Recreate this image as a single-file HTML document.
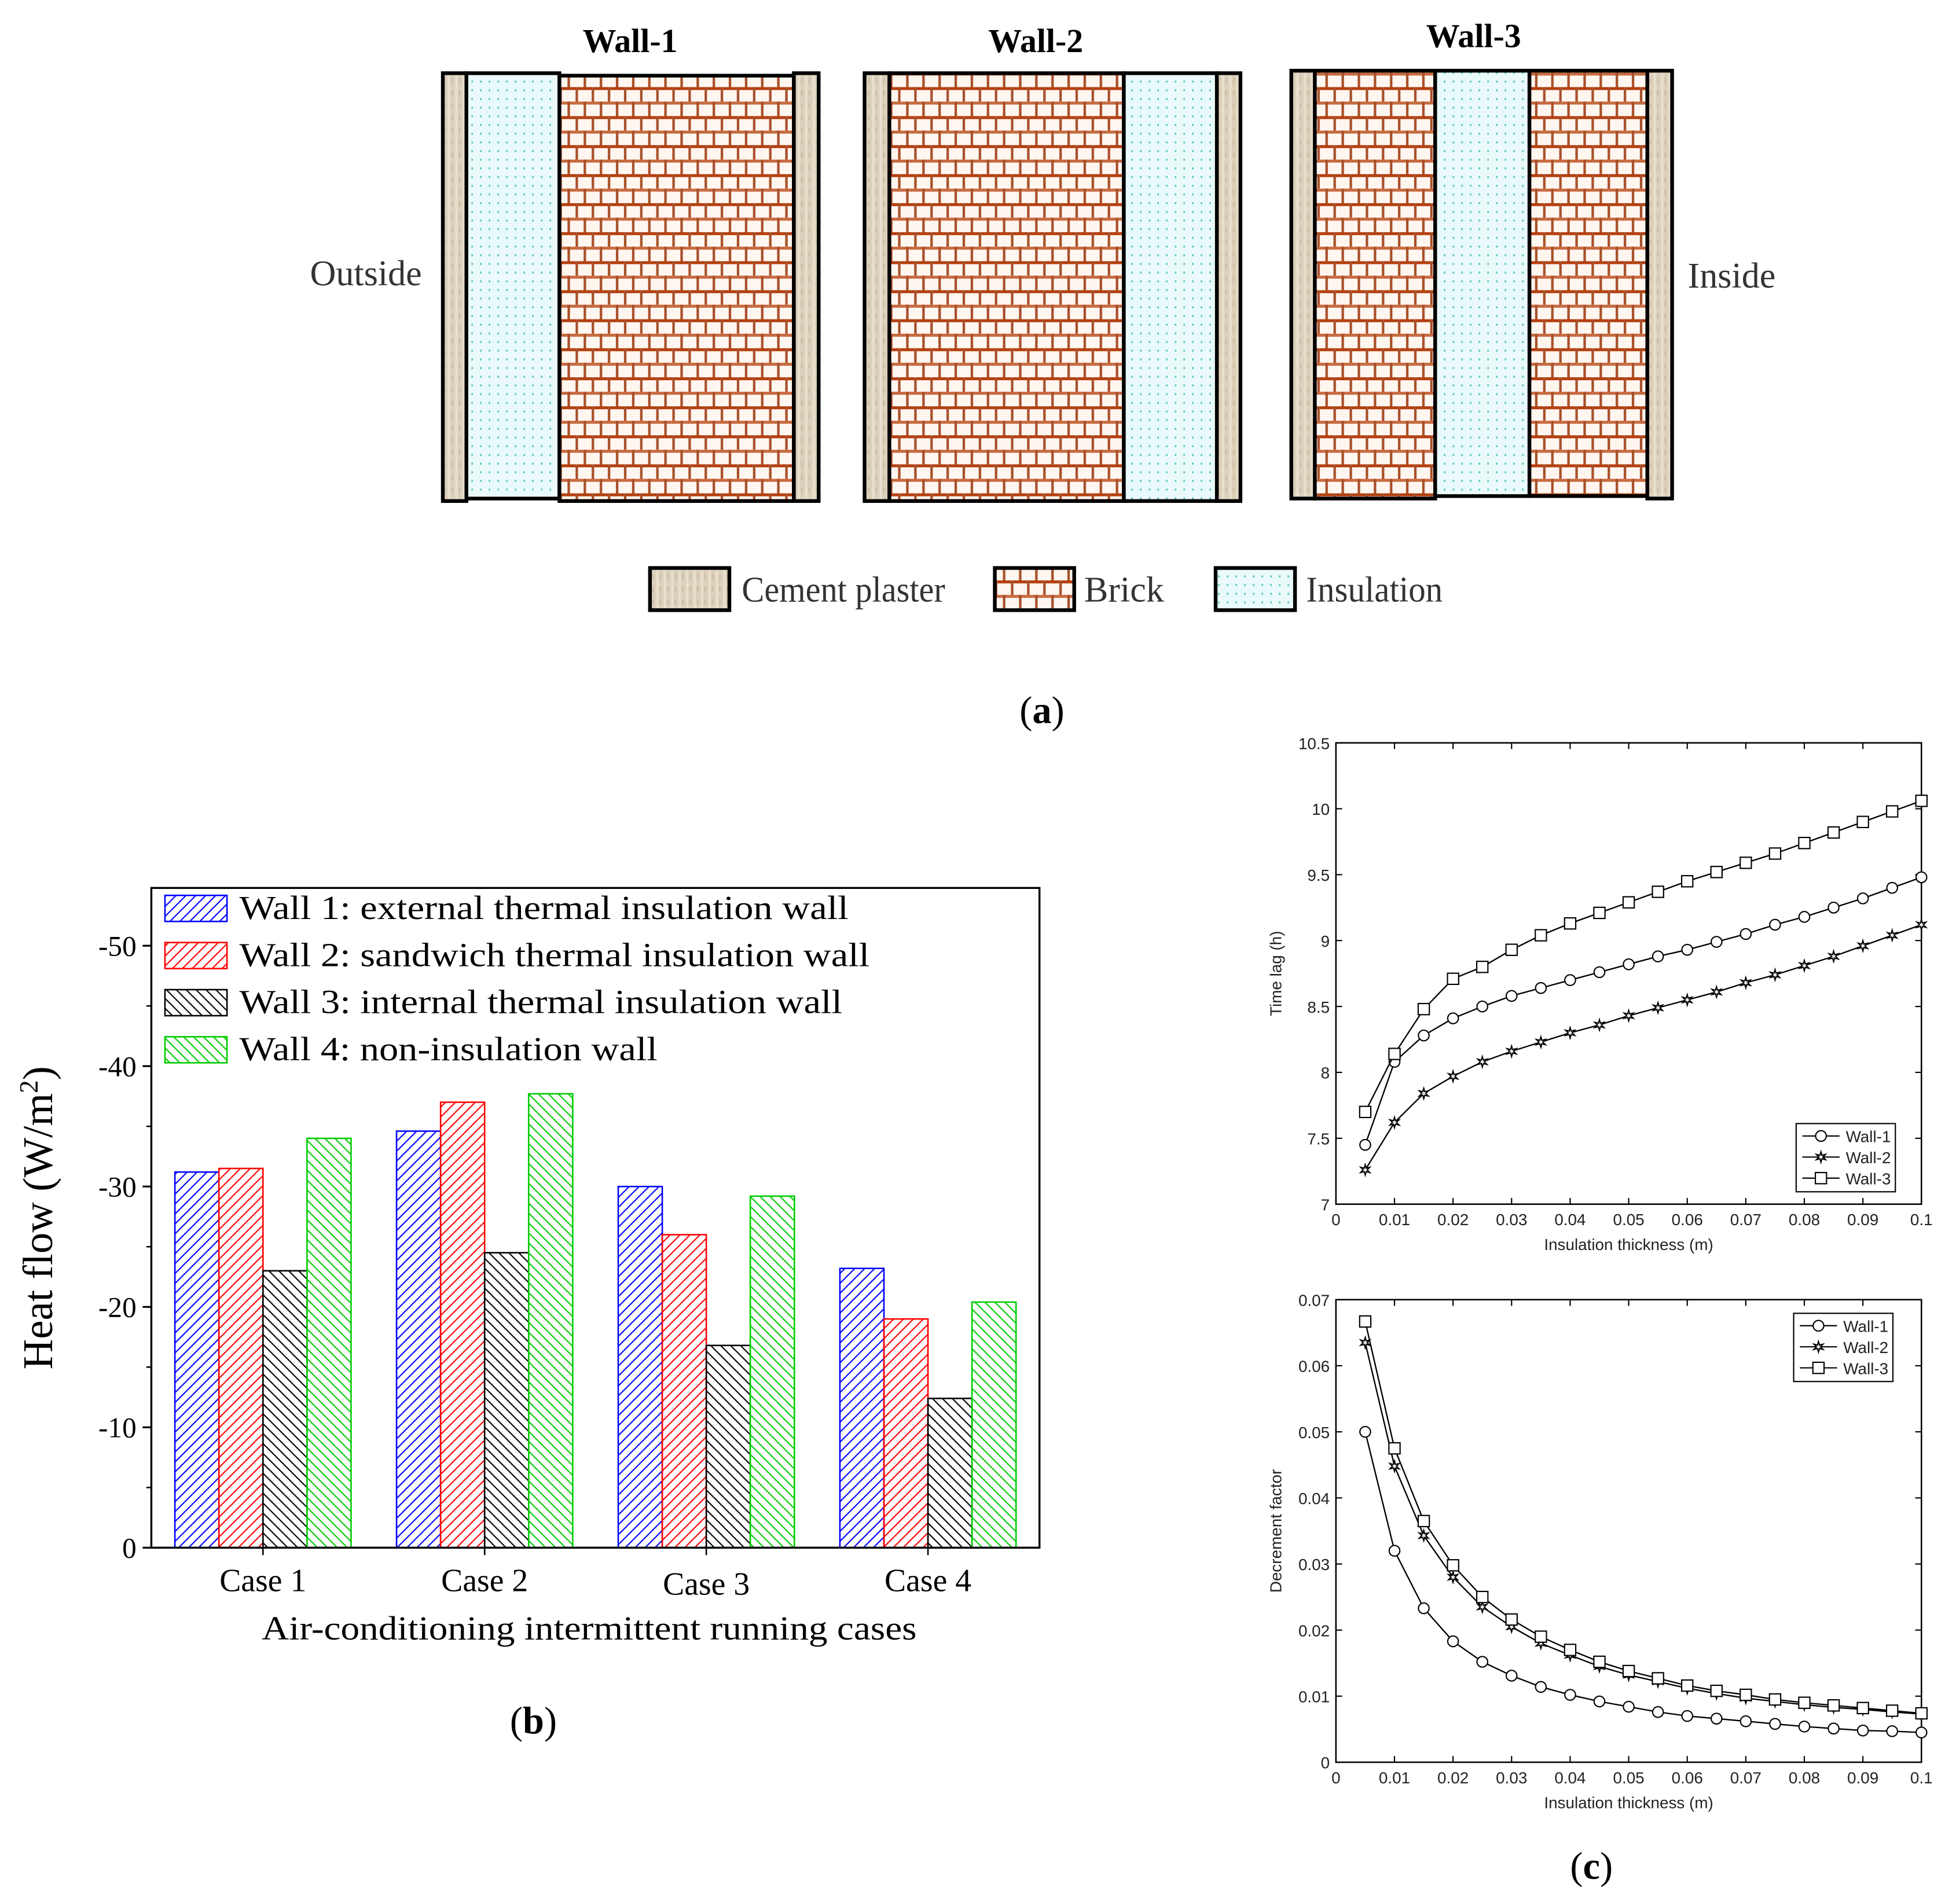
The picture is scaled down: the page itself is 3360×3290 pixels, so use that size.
<!DOCTYPE html>
<html><head><meta charset="utf-8"><style>
html,body{margin:0;padding:0;background:#fff}
svg{display:block}
</style></head><body>
<svg id="fig" width="3360" height="3290" viewBox="0 0 1568 1535.3" xmlns="http://www.w3.org/2000/svg" font-family="Liberation Serif, serif">
<defs>
<pattern id="brick" width="13" height="23.4" patternUnits="userSpaceOnUse">
<rect width="13" height="23.4" fill="#fff6f0"/>
<rect y="0" width="13" height="2.4" fill="#b5400f"/>
<rect y="11.7" width="13" height="2.4" fill="#c86a40"/>
<rect x="9" y="0" width="2" height="11.7" fill="#a8502a"/>
<rect x="2.5" y="11.7" width="2" height="11.7" fill="#a8502a"/>
</pattern>
<pattern id="ins" width="7" height="7" patternUnits="userSpaceOnUse">
<rect width="7" height="7" fill="#eafafa"/>
<rect x="2" y="2" width="1.3" height="1.6" fill="#5cc4c4"/>
</pattern>
<pattern id="plaster" width="6" height="10" patternUnits="userSpaceOnUse">
<rect width="6" height="10" fill="#dcd0bb"/>
<rect x="1" y="0" width="2" height="10" fill="#e8dfcd"/>
<rect x="4" y="3" width="1" height="4" fill="#c8b99f"/>
</pattern>
<pattern id="hb" width="8" height="8" patternUnits="userSpaceOnUse"><path d="M0,8 L8,0 M-2,2 L2,-2 M6,10 L10,6" stroke="#0000ff" stroke-width="1"/></pattern>
<pattern id="hr" width="8" height="8" patternUnits="userSpaceOnUse"><path d="M0,8 L8,0 M-2,2 L2,-2 M6,10 L10,6" stroke="#ff0000" stroke-width="1"/></pattern>
<pattern id="hk" width="8" height="8" patternUnits="userSpaceOnUse"><path d="M0,0 L8,8 M-2,6 L2,10 M6,-2 L10,2" stroke="#000" stroke-width="1"/></pattern>
<pattern id="hg" width="8" height="8" patternUnits="userSpaceOnUse"><path d="M0,0 L8,8 M-2,6 L2,10 M6,-2 L10,2" stroke="#00cc00" stroke-width="1"/></pattern>
</defs>

<g font-family="Liberation Sans Narrow, Liberation Serif, serif">
<text x="508" y="42" font-size="27" font-weight="bold" text-anchor="middle">Wall-1</text>
<text x="835" y="42" font-size="27" font-weight="bold" text-anchor="middle">Wall-2</text>
<text x="1188" y="38" font-size="27" font-weight="bold" text-anchor="middle">Wall-3</text>
<text x="295" y="230" font-size="29" fill="#333" text-anchor="middle">Outside</text>
<text x="1396" y="232" font-size="29" fill="#333" text-anchor="middle">Inside</text>
<g stroke="#000" stroke-width="3">
<rect x="357" y="59" width="19" height="345" fill="url(#plaster)"/>
<rect x="376" y="59" width="75" height="343" fill="url(#ins)"/>
<rect x="451" y="61" width="189" height="343" fill="url(#brick)"/>
<rect x="640" y="59" width="20" height="345" fill="url(#plaster)"/>
</g>
<g stroke="#000" stroke-width="3">
<rect x="697" y="59" width="20" height="345" fill="url(#plaster)"/>
<rect x="717" y="59" width="189" height="345" fill="url(#brick)"/>
<rect x="906" y="59" width="75" height="345" fill="url(#ins)"/>
<rect x="981" y="59" width="19" height="345" fill="url(#plaster)"/>
</g>
<g stroke="#000" stroke-width="3">
<rect x="1041" y="57" width="19" height="345" fill="url(#plaster)"/>
<rect x="1060" y="57" width="97" height="345" fill="url(#brick)"/>
<rect x="1157" y="57" width="76" height="343" fill="url(#ins)"/>
<rect x="1233" y="57" width="95" height="343" fill="url(#brick)"/>
<rect x="1328" y="57" width="20" height="345" fill="url(#plaster)"/>
</g>
<g font-size="29" fill="#333">
<rect x="524" y="458" width="64" height="34" fill="url(#plaster)" stroke="#000" stroke-width="3"/>
<text x="598" y="485" textLength="164" lengthAdjust="spacingAndGlyphs">Cement plaster</text>
<rect x="802" y="458" width="64" height="34" fill="url(#brick)" stroke="#000" stroke-width="3"/>
<text x="874" y="485">Brick</text>
<rect x="980" y="458" width="64" height="34" fill="url(#ins)" stroke="#000" stroke-width="3"/>
<text x="1053" y="485" textLength="110" lengthAdjust="spacingAndGlyphs">Insulation</text>
</g>
</g>
<text x="840" y="583" font-size="31" text-anchor="middle">(<tspan font-weight="bold">a</tspan>)</text>
<text x="430" y="1398" font-size="31" text-anchor="middle">(<tspan font-weight="bold">b</tspan>)</text>
<text x="1283" y="1515" font-size="31" text-anchor="middle">(<tspan font-weight="bold">c</tspan>)</text>

<g id="barchart"></g>
<g id="lag"></g>
<g id="dec"></g>
</svg>
<script>
const NS='http://www.w3.org/2000/svg';
function mk(p,t,a,txt){const e=document.createElementNS(NS,t);for(const k in a)e.setAttribute(k,a[k]);if(txt!==undefined)e.textContent=txt;p.appendChild(e);return e;}

// ---------- Bar chart data ----------
const cases=['Case 1','Case 2','Case 3','Case 4'];
const wall1Vals=[31.2,34.6,30.0,23.2];
const wall2Vals=[31.5,37.0,26.0,19.0];
const wall3Vals=[23.0,24.5,16.8,12.4];
const wall4Vals=[34.0,37.7,29.2,20.4];
const barTicks=[0,10,20,30,40,50];
const seriesNames=['Wall 1: external thermal insulation wall','Wall 2: sandwich thermal insulation wall','Wall 3: internal thermal insulation wall','Wall 4: non-insulation wall'];

// ---------- Line chart data ----------
const thick=[0.005,0.01,0.015,0.02,0.025,0.03,0.035,0.04,0.045,0.05,0.055,0.06,0.065,0.07,0.075,0.08,0.085,0.09,0.095,0.1];
const lag1=[7.45,8.08,8.28,8.41,8.50,8.58,8.64,8.70,8.76,8.82,8.88,8.93,8.99,9.05,9.12,9.18,9.25,9.32,9.40,9.48];
const lag2=[7.26,7.62,7.84,7.97,8.08,8.16,8.23,8.30,8.36,8.43,8.49,8.55,8.61,8.68,8.74,8.81,8.88,8.96,9.04,9.12];
const lag3=[7.70,8.14,8.48,8.71,8.80,8.93,9.04,9.13,9.21,9.29,9.37,9.45,9.52,9.59,9.66,9.74,9.82,9.90,9.98,10.06];
const dec1=[0.050,0.032,0.0233,0.0183,0.0152,0.0131,0.0114,0.0102,0.0092,0.0084,0.0076,0.0070,0.0066,0.0062,0.0058,0.0054,0.0051,0.0048,0.0047,0.0045];
const dec2=[0.0635,0.0448,0.0343,0.028,0.0235,0.0205,0.018,0.0162,0.0145,0.0132,0.0122,0.0112,0.0104,0.0097,0.0092,0.0087,0.0083,0.008,0.0076,0.0073];
const dec3=[0.0667,0.0475,0.0365,0.0298,0.025,0.0216,0.019,0.017,0.0152,0.0138,0.0127,0.0116,0.0108,0.0102,0.0095,0.009,0.0086,0.0082,0.0078,0.0074];
const xTicks=[0,0.01,0.02,0.03,0.04,0.05,0.06,0.07,0.08,0.09,0.1];
const xTickLabels=['0','0.01','0.02','0.03','0.04','0.05','0.06','0.07','0.08','0.09','0.1'];
const lagTicks=[7,7.5,8,8.5,9,9.5,10,10.5];
const decTicks=[0,0.01,0.02,0.03,0.04,0.05,0.06,0.07];

// ---------- Bar chart ----------
(function(){
  const g=document.getElementById('barchart');
  const L=122,R=838,T=716,B=1248,ymax=54.8;
  const y=v=>B-(v/ymax)*(B-T);
  const groupW=178.7;
  const bw=35.5;
  const first=141+2*bw;
  const fills=['url(#hb)','url(#hr)','url(#hk)','url(#hg)'];
  const strokes=['#0000ff','#ff0000','#000','#00cc00'];
  const all=[wall1Vals,wall2Vals,wall3Vals,wall4Vals];
  cases.forEach((c,i)=>{
    const cx=first+groupW*i;
    all.forEach((vals,s)=>{
      const x=cx-2*bw+s*bw;
      const r=mk(g,'rect',{x:x,y:y(vals[i]),width:bw,height:B-y(vals[i]),fill:fills[s],stroke:strokes[s],'stroke-width':1.2});
      
      
    });
    const t=mk(g,'text',{x:cx,y:1283+(i===2?3:0),'font-size':26,'text-anchor':'middle'},c);
    
    
    mk(g,'line',{x1:cx,x2:cx,y1:B,y2:B+6,stroke:'#000','stroke-width':1.2});
  });
  const fr=mk(g,'rect',{x:L,y:T,width:R-L,height:B-T,fill:'none',stroke:'#000','stroke-width':1.6});
  
  
  barTicks.forEach(v=>{
    mk(g,'line',{x1:L-7,x2:L,y1:y(v),y2:y(v),stroke:'#000','stroke-width':1.5});
    if(v<50) mk(g,'line',{x1:L-4,x2:L,y1:y(v+5),y2:y(v+5),stroke:'#000','stroke-width':1.2});
    const t=mk(g,'text',{x:L-12,y:y(v)+8,'font-size':23,'text-anchor':'end'},v===0?'0':'-'+v);
    
    
  });
  const yt=mk(g,'text',{x:42,y:982,'font-size':34,'text-anchor':'middle',transform:'rotate(-90 42 982)'});
  yt.innerHTML='Heat flow (W/m<tspan baseline-shift="super" font-size="21">2</tspan>)';
  
  
  const xt=mk(g,'text',{x:211,y:1322,'font-size':27,textLength:528,lengthAdjust:'spacingAndGlyphs'},'Air-conditioning intermittent running cases');
  
  
  const legW=[491,508,486,337];
  seriesNames.forEach((n,s)=>{
    const yy=722+s*38;
    const r=mk(g,'rect',{x:133,y:yy,width:50,height:21,fill:fills[s],stroke:strokes[s],'stroke-width':1.2});
    
    
    const t=mk(g,'text',{x:193,y:yy+19,'font-size':27,textLength:legW[s],lengthAdjust:'spacingAndGlyphs'},n);
    
    
  });
})();

// ---------- Line charts ----------
function marker(g,type,x,y){
  if(type==='o') return mk(g,'circle',{cx:x,cy:y,r:4.3,fill:'#fff',stroke:'#000','stroke-width':1});
  if(type==='s') return mk(g,'rect',{x:x-4.5,y:y-4.5,width:9,height:9,fill:'#fff',stroke:'#000','stroke-width':1});
  let d='';for(let k=0;k<12;k++){const a=-Math.PI/2+k*Math.PI/6;const r=k%2?1.6:4.2;d+=(k?'L':'M')+(x+r*Math.cos(a)).toFixed(2)+','+(y+r*Math.sin(a)).toFixed(2);}
  return mk(g,'path',{d:d+'Z',fill:'#fff',stroke:'#000','stroke-width':1});
}
function lineChart(id,T,B,yt,yfmt,ylab,series,legendBox){
  const g=document.getElementById(id);
  const L=1077,R=1549;
  const x=v=>L+(v/0.1)*(R-L);
  const ymin=yt[0],ymax=yt[yt.length-1];
  const y=v=>B-(v-ymin)/(ymax-ymin)*(B-T);
  const fr=mk(g,'rect',{x:L,y:T,width:R-L,height:B-T,fill:'none',stroke:'#000','stroke-width':1.2});
  
  
  xTicks.forEach((v,i)=>{
    mk(g,'line',{x1:x(v),x2:x(v),y1:B,y2:B-5,stroke:'#000','stroke-width':1});
    mk(g,'line',{x1:x(v),x2:x(v),y1:T,y2:T+5,stroke:'#000','stroke-width':1});
    const t=mk(g,'text',{x:x(v),y:B+17,'font-size':13,'text-anchor':'middle','font-family':'Liberation Sans, sans-serif',fill:'#222'},xTickLabels[i]);
    
    
  });
  yt.forEach(v=>{
    mk(g,'line',{x1:L,x2:L+5,y1:y(v),y2:y(v),stroke:'#000','stroke-width':1});
    mk(g,'line',{x1:R,x2:R-5,y1:y(v),y2:y(v),stroke:'#000','stroke-width':1});
    const t=mk(g,'text',{x:L-5,y:y(v)+5,'font-size':13,'text-anchor':'end','font-family':'Liberation Sans, sans-serif',fill:'#222'},yfmt(v));
    
    
  });
  const xl=mk(g,'text',{x:1313,y:B+37,'font-size':13,'text-anchor':'middle','font-family':'Liberation Sans, sans-serif',fill:'#222'},'Insulation thickness (m)');
  
  
  const yl=mk(g,'text',{x:1033,y:(T+B)/2,'font-size':13,'text-anchor':'middle','font-family':'Liberation Sans, sans-serif',fill:'#222',transform:'rotate(-90 1033 '+((T+B)/2)+')'},ylab);
  
  
  series.forEach((s,si)=>{
    const pts=thick.map((t,i)=>x(t).toFixed(2)+','+y(s.vals[i]).toFixed(2)).join(' ');
    const pl=mk(g,'polyline',{points:pts,fill:'none',stroke:'#000','stroke-width':1.1});
    
    
    thick.forEach((t,i)=>{
      const m=marker(g,s.m,x(t),y(s.vals[i]));
      
      
    });
  });
  const [lx,ly]=legendBox;
  const lb=mk(g,'rect',{x:lx,y:ly,width:80,height:55,fill:'#fff',stroke:'#000','stroke-width':1});
  
  
  series.forEach((s,si)=>{
    const yy=ly+10+si*17;
    mk(g,'line',{x1:lx+5,x2:lx+35,y1:yy,y2:yy,stroke:'#000','stroke-width':1});
    marker(g,s.m,lx+20,yy);
    const t=mk(g,'text',{x:lx+40,y:yy+5,'font-size':13,'font-family':'Liberation Sans, sans-serif',fill:'#222'},'Wall-'+(si+1));
    
    
  });
}
lineChart('lag',599,971,lagTicks,v=>String(v),'Time lag (h)',[{vals:lag1,m:'o'},{vals:lag2,m:'*'},{vals:lag3,m:'s'}],[1448,906]);
lineChart('dec',1048,1421,decTicks,v=>v===0?'0':v.toFixed(2),'Decrement factor',[{vals:dec1,m:'o'},{vals:dec2,m:'*'},{vals:dec3,m:'s'}],[1446,1059]);
</script>
</body></html>
